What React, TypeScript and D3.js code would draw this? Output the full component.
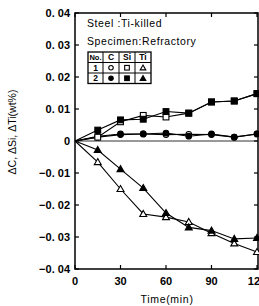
import React, { useEffect, useRef } from 'react'
import * as d3 from 'd3'

// time axis (min)
const times = [0, 15, 30, 45, 60, 75, 90, 105, 120]

// No.1 (open markers) and No.2 (filled markers), change in wt%
const c1 = [0, 0.0015, 0.0022, 0.0022, 0.002, 0.0021, 0.002, 0.0012, 0.0022]
const c2 = [0, 0.0012, 0.002, 0.0022, 0.0025, 0.0015, 0.0022, 0.0012, 0.0022]
const si1 = [0, 0.0012, 0.006, 0.008, 0.0075, 0.0087, 0.0122, 0.0125, 0.0148]
const si2 = [0, 0.0034, 0.0066, 0.0068, 0.0092, 0.0087, 0.0122, 0.0125, 0.0148]
const ti1 = [0, -0.0066, -0.015, -0.0228, -0.0238, -0.0253, -0.0288, -0.032, -0.0347]
const ti2 = [0, -0.0028, -0.0088, -0.0147, -0.0225, -0.027, -0.028, -0.0306, -0.0303]

const xTicks = [0, 30, 60, 90, 120]
const yTicks = [0.04, 0.03, 0.02, 0.01, 0, -0.01, -0.02, -0.03, -0.04]

const legendHead = ['No.', 'C', 'Si', 'Ti']
const legendRows = ['1', '2']

const series = [
  { values: c1, shape: 'circle', filled: false },
  { values: c2, shape: 'circle', filled: true },
  { values: si1, shape: 'square', filled: false },
  { values: si2, shape: 'square', filled: true },
  { values: ti1, shape: 'triangle', filled: false },
  { values: ti2, shape: 'triangle', filled: true },
]

const fmtY = (v: number) => (v === 0 ? '0' : d3.format('.2f')(v).replace('.', '. '))

function drawMarker(g: any, shape: string, filled: boolean, x: number, y: number, k = 1) {
  const fill = filled ? '#000' : '#fff'
  if (shape === 'circle') {
    g.append('circle').attr('cx', x).attr('cy', y).attr('r', 2.8 * k)
      .attr('fill', fill).attr('stroke', '#000').attr('stroke-width', 1.1)
  } else if (shape === 'square') {
    const s = 5.8 * k
    g.append('rect').attr('x', x - s / 2).attr('y', y - s / 2).attr('width', s).attr('height', s)
      .attr('fill', fill).attr('stroke', '#000').attr('stroke-width', 1.1)
  } else {
    g.append('path').attr('d', d3.symbol(d3.symbolTriangle, 21 * k * k)())
      .attr('transform', `translate(${x},${y + 0.5})`)
      .attr('fill', fill).attr('stroke', '#000').attr('stroke-width', 1.1)
  }
}

const App = () => {
  const ref = useRef<SVGSVGElement>(null)

  useEffect(() => {
    const svg = d3.select(ref.current)
    svg.selectAll('*').remove()

    const width = 259
    const height = 306
    const left = 75
    const right = 257
    const top = 13
    const bottom = 269
    const font = "'Liberation Sans', Arial, sans-serif"

    const x = d3.scaleLinear().domain([0, 120]).range([left, right])
    const y = d3.scaleLinear().domain([-0.04, 0.04]).range([bottom, top])

    svg.append('rect').attr('width', width).attr('height', height).attr('fill', '#fff')

    // frame
    svg.append('rect')
      .attr('x', left).attr('y', top)
      .attr('width', right + 1 - left).attr('height', bottom - top)
      .attr('fill', 'none').attr('stroke', '#000').attr('stroke-width', 1.5)

    // zero line
    svg.append('line')
      .attr('x1', left).attr('x2', right + 1)
      .attr('y1', y(0)).attr('y2', y(0))
      .attr('stroke', '#333').attr('stroke-width', 1)

    // inward ticks
    const tk = svg.append('g').attr('stroke', '#000').attr('stroke-width', 1.2)
    yTicks.forEach(v => {
      tk.append('line').attr('x1', left).attr('x2', left + 4).attr('y1', y(v)).attr('y2', y(v))
      tk.append('line').attr('x1', right + 1).attr('x2', right - 3).attr('y1', y(v)).attr('y2', y(v))
    })
    xTicks.forEach(v => {
      tk.append('line').attr('x1', x(v)).attr('x2', x(v)).attr('y1', bottom).attr('y2', bottom - 4)
      tk.append('line').attr('x1', x(v)).attr('x2', x(v)).attr('y1', top).attr('y2', top + 4)
    })

    // tick labels
    svg.append('g').selectAll('text').data(yTicks).join('text')
      .attr('x', 70).attr('y', d => y(d) + 4)
      .attr('text-anchor', 'end')
      .attr('font-family', font).attr('font-size', 11).attr('font-weight', 'bold')
      .attr('fill', '#000')
      .text(d => fmtY(d))

    svg.append('g').selectAll('text').data(xTicks).join('text')
      .attr('x', d => x(d)).attr('y', 285)
      .attr('text-anchor', 'middle')
      .attr('font-family', font).attr('font-size', 11).attr('font-weight', 'bold')
      .attr('fill', '#000')
      .text(d => d)

    svg.append('text')
      .attr('x', 167).attr('y', 303)
      .attr('text-anchor', 'middle')
      .attr('font-family', font).attr('font-size', 10.5).attr('letter-spacing', 0.7)
      .text('Time(min)')

    svg.append('text')
      .attr('transform', `translate(16,132) rotate(-90)`)
      .attr('text-anchor', 'middle')
      .attr('font-family', font).attr('font-size', 10.5)
      .text('ΔC, ΔSi, ΔTi(wt%)')

    // series
    const line = d3.line<number>().x((d, i) => x(times[i])).y(d => y(d))
    series.forEach(s => {
      svg.append('path').datum(s.values).attr('d', line)
        .attr('fill', 'none').attr('stroke', '#000').attr('stroke-width', 1.1)
    })
    series.forEach(s => {
      const g = svg.append('g')
      s.values.forEach((v, i) => {
        if (i === 0) return
        drawMarker(g, s.shape, s.filled, x(times[i]), y(v))
      })
    })

    // legend text
    svg.append('text').attr('x', 87).attr('y', 27)
      .attr('font-family', font).attr('font-size', 10.5).attr('letter-spacing', 0.6)
      .text('Steel :Ti-killed')
    svg.append('text').attr('x', 87).attr('y', 45)
      .attr('font-family', font).attr('font-size', 10.5).attr('letter-spacing', 0.6)
      .text('Specimen:Refractory')

    // legend table
    const colW = [15, 16, 16, 16]
    const rowH = 10.5
    const tx = 88
    const ty = 52
    const colX = [tx]
    colW.forEach((w, i) => colX.push(colX[i] + w))
    const tg = svg.append('g')
    tg.append('rect').attr('x', tx).attr('y', ty)
      .attr('width', colX[4] - tx).attr('height', rowH * 3)
      .attr('fill', '#fff').attr('stroke', '#000').attr('stroke-width', 1.3)
    colX.slice(1, 4).forEach(cx => {
      tg.append('line').attr('x1', cx).attr('x2', cx).attr('y1', ty).attr('y2', ty + rowH * 3)
        .attr('stroke', '#000').attr('stroke-width', 1)
    })
    ;[1, 2].forEach(r => {
      tg.append('line').attr('x1', tx).attr('x2', colX[4]).attr('y1', ty + r * rowH).attr('y2', ty + r * rowH)
        .attr('stroke', '#000').attr('stroke-width', 1)
    })
    legendHead.forEach((h, i) => {
      tg.append('text').attr('x', (colX[i] + colX[i + 1]) / 2).attr('y', ty + rowH - 2.5)
        .attr('text-anchor', 'middle')
        .attr('font-family', font).attr('font-size', i === 0 ? 7.5 : 8.5).attr('font-weight', 'bold')
        .text(h)
    })
    const shapes = ['circle', 'square', 'triangle']
    legendRows.forEach((r, ri) => {
      const cy = ty + rowH * (ri + 1) + rowH / 2
      tg.append('text').attr('x', (colX[0] + colX[1]) / 2).attr('y', cy + 3.2)
        .attr('text-anchor', 'middle')
        .attr('font-family', font).attr('font-size', 8.5).attr('font-weight', 'bold')
        .text(r)
      shapes.forEach((sh, si) => {
        drawMarker(tg, sh, ri === 1, (colX[si + 1] + colX[si + 2]) / 2, cy, 0.8)
      })
    })
  }, [])

  return (
    <svg ref={ref} width={259} height={306}
      style={{ position: 'absolute', left: 0, top: 0, display: 'block' }} />
  )
}

export default App
